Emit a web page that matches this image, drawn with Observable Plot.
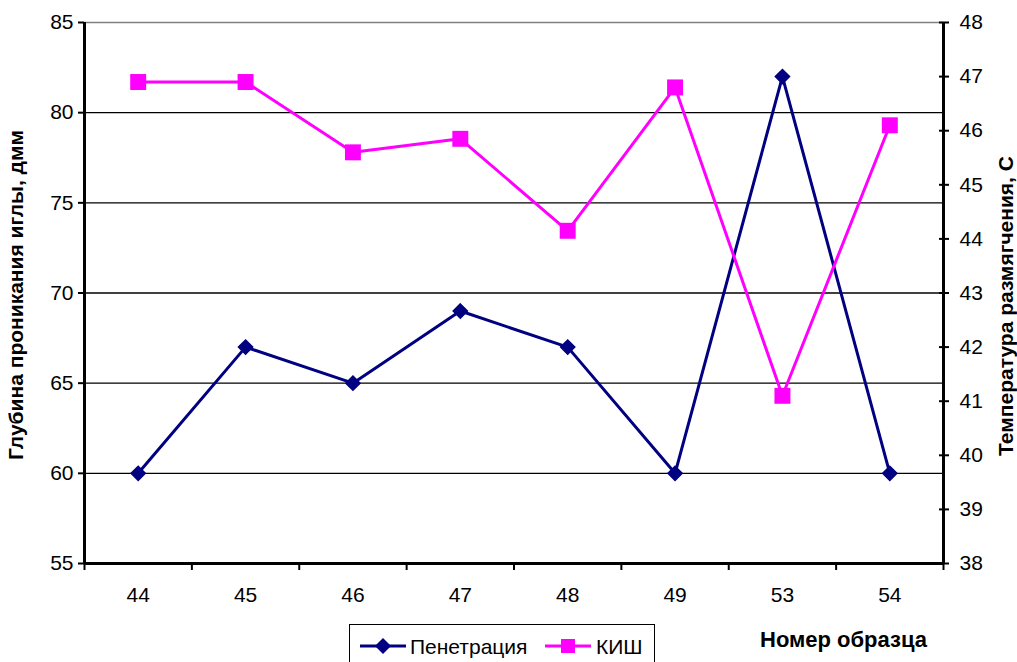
<!DOCTYPE html>
<html><head><meta charset="utf-8">
<script src="https://cdn.jsdelivr.net/npm/d3@7"></script>
<script src="https://cdn.jsdelivr.net/npm/@observablehq/plot@0.6"></script>
<style>
body{margin:0;background:#fff;font-family:"Liberation Sans",Arial,sans-serif;}
#wrap{position:relative;width:1017px;height:662px;overflow:hidden;}
#legend{position:absolute;left:349px;top:624px;width:306px;height:44px;border:1.5px solid #000;background:#fff;box-sizing:border-box;}
#xtitle{position:absolute;left:760px;top:627px;font-size:22px;font-weight:bold;}
</style></head>
<body><div id="wrap"></div>
<script>
const categories = ["44","45","46","47","48","49","53","54"];
const penetration = [60, 67, 65, 69, 67, 60, 82, 60];
const kish = [46.9, 46.9, 45.6, 45.85, 44.15, 46.8, 41.1, 46.1];
const leftTicks = [55, 60, 65, 70, 75, 80, 85];
const rightTicks = [38, 39, 40, 41, 42, 43, 44, 45, 46, 47, 48];
const leftTitle = "Глубина проникания иглы, дмм";
const rightTitle = "Температура размягчения, С";
const xTitle = "Номер образца";
const seriesNames = ["Пенетрация", "КИШ"];
const colors = ["#000080", "#FF00FF"];

// right axis (38..48) mapped onto left scale (55..85)
const toLeft = v => 55 + (v - 38) * 3;
const fromLeft = v => Math.round((v - 55) / 3 + 38);

const idx = categories.map((c, i) => i + 1);
const bounds = d3.range(0, categories.length + 1).map(i => i + 0.5);
const penData = categories.map((c, i) => ({x: i + 1, y: penetration[i]}));
const kishData = categories.map((c, i) => ({x: i + 1, y: toLeft(kish[i])}));

const chart = Plot.plot({
  width: 1017, height: 662,
  marginLeft: 84, marginRight: 74, marginTop: 22, marginBottom: 99,
  style: {fontFamily: '"Liberation Sans", Arial, sans-serif', fontSize: "21px", color: "#000", background: "#fff"},
  x: {type: "linear", domain: [0.5, categories.length + 0.5]},
  y: {domain: [55, 85]},
  marks: [
    Plot.ruleY(leftTicks.filter(d => d > 55 && d < 85), {stroke: "#000", strokeWidth: 1.3}),
    Plot.ruleY([85], {stroke: "#808080", strokeWidth: 1.5}),
    Plot.axisY({anchor: "left", ticks: leftTicks, tickSize: 6, tickPadding: 5, label: null, fontSize: 21, stroke: "#000", strokeWidth: 2}),
    Plot.axisY({anchor: "right", ticks: rightTicks.map(toLeft), tickSize: 10, dx: -5, tickFormat: () => "", label: null, stroke: "#000", strokeWidth: 2}),
    Plot.axisY({anchor: "right", ticks: rightTicks.map(toLeft), tickSize: 0, tickPadding: 16, tickFormat: fromLeft, label: null, fontSize: 21}),
    Plot.axisX({anchor: "bottom", ticks: bounds, tickSize: 7, tickFormat: () => "", label: null, stroke: "#000", strokeWidth: 2}),
    Plot.axisX({anchor: "bottom", ticks: idx, tickSize: 0, tickPadding: 24, tickFormat: i => categories[i - 1], label: null, fontSize: 21}),
    Plot.ruleX([0.5], {stroke: "#000", strokeWidth: 3}),
    Plot.ruleX([categories.length + 0.5], {stroke: "#000", strokeWidth: 3}),
    Plot.ruleY([55], {stroke: "#000", strokeWidth: 3}),
    Plot.line(penData, {x: "x", y: "y", stroke: colors[0], strokeWidth: 3}),
    Plot.dot(penData, {x: "x", y: "y", symbol: "diamond2", r: 6.4, fill: colors[0], stroke: colors[0]}),
    Plot.line(kishData, {x: "x", y: "y", stroke: colors[1], strokeWidth: 3}),
    Plot.dot(kishData, {x: "x", y: "y", symbol: "square", r: 9, fill: colors[1], stroke: "none"}),
    Plot.text([leftTitle], {frameAnchor: "left", textAnchor: "middle", dx: -68, dy: 2, rotate: -90, fontWeight: "bold", fontSize: 21}),
    Plot.text([rightTitle], {frameAnchor: "right", textAnchor: "middle", dx: 63, dy: 13, rotate: -90, fontWeight: "bold", fontSize: 21})
  ]
});
const wrap = document.getElementById("wrap");
wrap.appendChild(chart);

// legend
const legend = document.createElement("div");
legend.id = "legend";
const ns = "http://www.w3.org/2000/svg";
const ls = document.createElementNS(ns, "svg");
ls.setAttribute("width", 304); ls.setAttribute("height", 42);
ls.style.fontFamily = '"Liberation Sans", Arial, sans-serif';
const items = [
  {x0: 10, tx: 60, sym: "diamond"},
  {x0: 195, tx: 246, sym: "square"}
];
items.forEach((it, i) => {
  const line = document.createElementNS(ns, "line");
  line.setAttribute("x1", it.x0); line.setAttribute("x2", it.x0 + 46);
  line.setAttribute("y1", 21); line.setAttribute("y2", 21);
  line.setAttribute("stroke", colors[i]); line.setAttribute("stroke-width", 3);
  ls.appendChild(line);
  const cx = it.x0 + 23;
  let s;
  if (it.sym === "diamond") {
    s = document.createElementNS(ns, "path");
    s.setAttribute("d", `M${cx},${21-8}L${cx+8},21L${cx},${21+8}L${cx-8},21Z`);
  } else {
    s = document.createElementNS(ns, "rect");
    s.setAttribute("x", cx - 7); s.setAttribute("y", 14);
    s.setAttribute("width", 14); s.setAttribute("height", 14);
  }
  s.setAttribute("fill", colors[i]);
  ls.appendChild(s);
  const t = document.createElementNS(ns, "text");
  t.setAttribute("x", it.tx); t.setAttribute("y", 29);
  t.setAttribute("font-size", 21);
  t.textContent = seriesNames[i];
  ls.appendChild(t);
});
legend.appendChild(ls);
wrap.appendChild(legend);

const xt = document.createElement("div");
xt.id = "xtitle";
xt.textContent = xTitle;
wrap.appendChild(xt);
</script>
</body></html>
